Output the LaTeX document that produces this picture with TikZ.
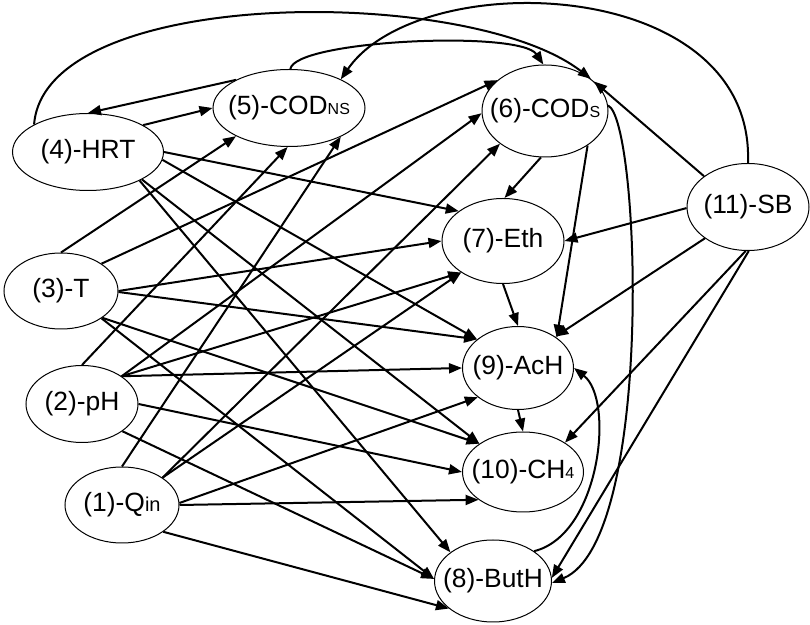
\documentclass[tikz,border=0pt]{standalone}
\usepackage{fontspec}
\setmainfont{Liberation Sans}
\usepackage{tikz}
\usetikzlibrary{shapes.geometric, arrows.meta}
\newcommand{\lowtxt}[2][8]{{\fontsize{#1}{#1}\selectfont #2}}
\tikzset{
  vbox/.style={
    ellipse, draw=black, line width=0.5pt, fill=white,
    inner xsep=-15pt, inner ysep=0pt,
    font=\fontsize{13.2}{15}\selectfont
  },
  arr/.style={
    -{Triangle[length=6.5pt,width=5pt]},
    black, line width=1pt
  },
}

\begin{document}
\begin{tikzpicture}[x=0.5pt,y=-0.5pt]
  \useasboundingbox (0,0) rectangle (810,625);
  % input variables
  \node[vbox,minimum width=75.5pt,minimum height=38.5pt] (hrt)  at (88,152)  {(4)-HRT};
  \node[vbox,minimum width=57pt,minimum height=38pt]     (temp) at (61,291)  {(3)-T};
  \node[vbox,minimum width=56pt,minimum height=38.5pt]   (ph)   at (82,404)  {(2)-pH};
  \node[vbox,minimum width=57pt,minimum height=38pt]     (qin)  at (122,505) {(1)-Q\lowtxt[10]{in}};
  % process variables
  \node[vbox,minimum width=76pt,minimum height=38.5pt]   (codns) at (289,108) {(5)-COD\lowtxt{NS}};
  \node[vbox,minimum width=63pt,minimum height=46pt]     (cods)  at (545,111) {(6)-COD\lowtxt{S}};
  \node[vbox,minimum width=61pt,minimum height=43.5pt]   (sb)    at (748,207) {(11)-SB};
  \node[vbox,minimum width=61pt,minimum height=42.5pt]   (eth)   at (503,241) {(7)-Eth};
  \node[vbox,minimum width=55.5pt,minimum height=41.5pt] (ach)   at (518,368) {(9)-AcH};
  \node[vbox,minimum width=60.5pt,minimum height=40pt]   (ch4)   at (523,472) {(10)-CH\lowtxt{4}};
  \node[vbox,minimum width=58.5pt,minimum height=41pt]   (buth)  at (493,581) {(8)-ButH};

  % inputs to outputs
  \draw[arr] (hrt.26)  -- (codns.180);
  \draw[arr] (hrt.0)   -- (eth.146);
  \draw[arr] (hrt.-6)  -- (ach.145);
  \draw[arr] (hrt.-27) -- (ch4.147);
  \draw[arr] (hrt.-29) -- (buth.146);
  \draw[arr] (hrt.153) .. controls (45,-15) and (470,-15) .. (cods.35);

  \draw[arr] (temp.90)  -- (codns.208);
  \draw[arr] (temp.34)  -- (cods.147);
  \draw[arr] (temp.0)   -- (eth.180);
  \draw[arr] (temp.-1)  -- (ach.145);
  \draw[arr] (temp.-33) -- (ch4.147);
  \draw[arr] (temp.-34) -- (buth.178);

  \draw[arr] (ph.90)  -- (codns.268);
  \draw[arr] (ph.35)  -- (cods.182);
  \draw[arr] (ph.35)  -- (eth.217);
  \draw[arr] (ph.35)  -- (ach.180);
  \draw[arr] (ph.0)   -- (ch4.180);
  \draw[arr] (ph.-34) -- (buth.178);

  \draw[arr] (qin.90)  -- (codns.-29);
  \draw[arr] (qin.34)  -- (cods.216);
  \draw[arr] (qin.34)  -- (eth.217);
  \draw[arr] (qin.2)   -- (ach.216);
  \draw[arr] (qin.0)   -- (ch4.212);
  \draw[arr] (qin.-33) -- (buth.212);

  % links between outputs
  \draw[arr] (codns.152) -- (hrt.90);
  \draw[arr] (codns.88) .. controls (295,40) and (520,30) .. (cods.92);
  \draw[arr] (cods.265) -- (eth.88);
  \draw[arr] (cods.321) -- (ach.38);
  \draw[arr] (cods.5) .. controls (640,120) and (655,540) .. (buth.-2);
  \draw[arr] (eth.270) -- (ach.90);
  \draw[arr] (ach.270) -- (ch4.90);
  \draw[arr] (buth.36) .. controls (600,535) and (615,400) .. (ach.0);

  % SB links
  \draw[arr] (sb.90) .. controls (755,-25) and (420,-35) .. (codns.29);
  \draw[arr] (sb.145) -- (cods.31);
  \draw[arr] (sb.181) -- (eth.0);
  \draw[arr] (sb.216) -- (ach.40);
  \draw[arr] (sb.267) -- (ch4.35);
  \draw[arr] (sb.271) -- (buth.3);
\end{tikzpicture}
\end{document}
